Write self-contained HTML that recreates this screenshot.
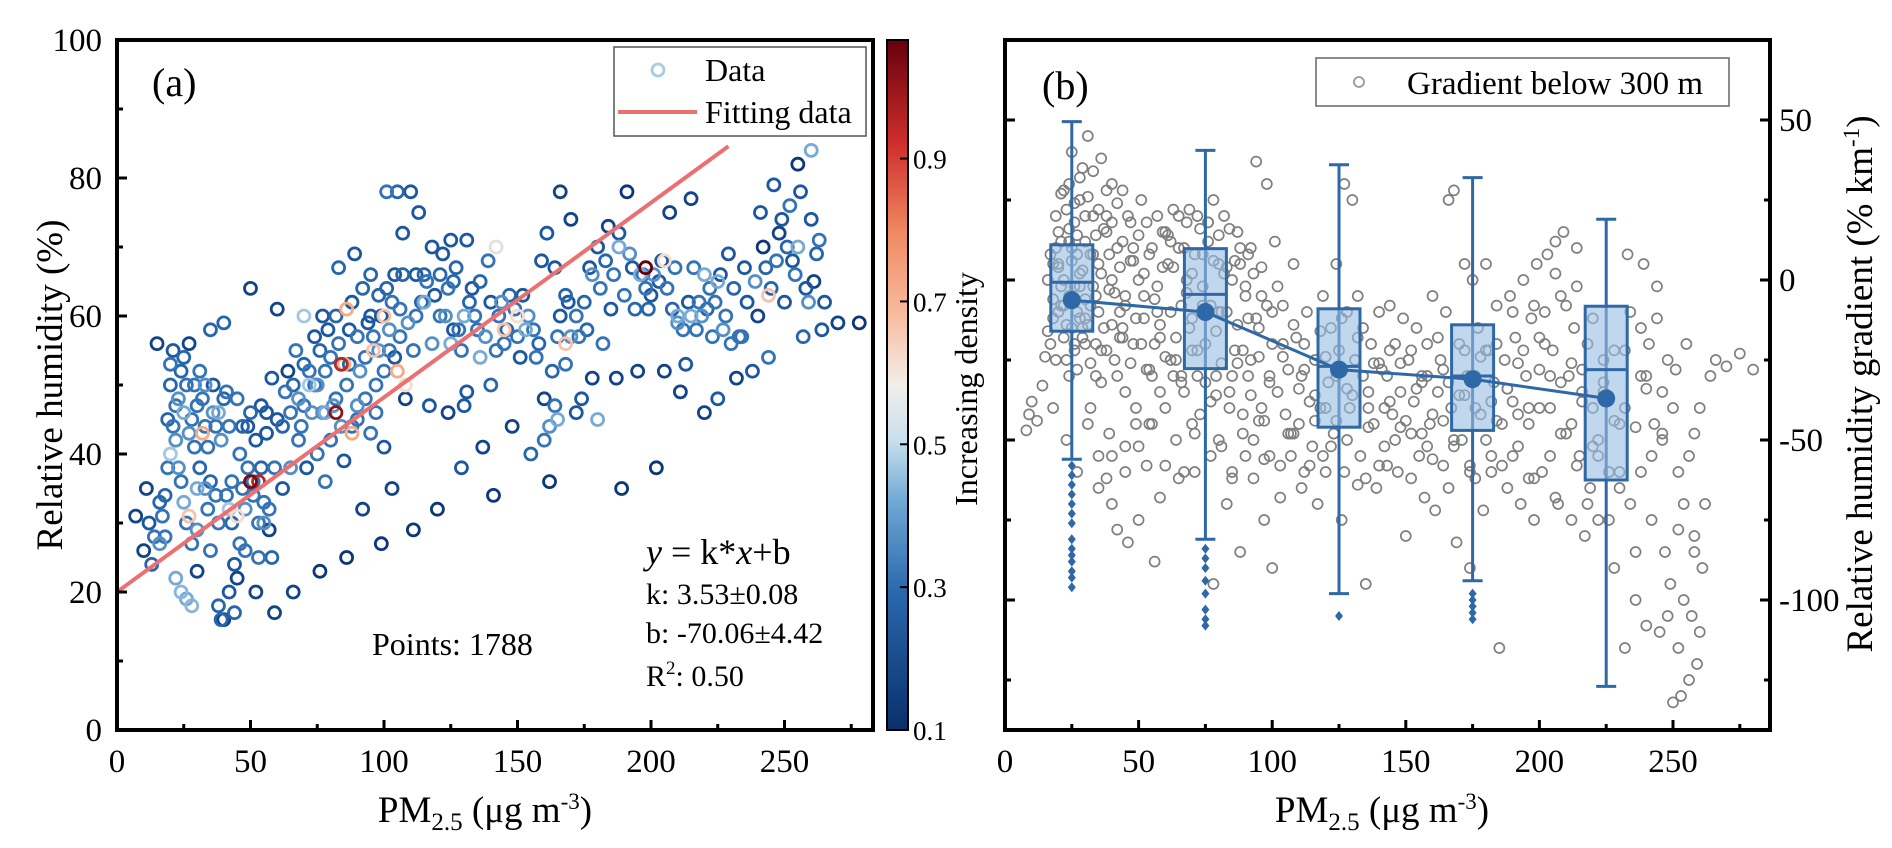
<!DOCTYPE html>
<html><head><meta charset="utf-8"><style>
html,body{margin:0;padding:0;background:#fff}
svg{display:block}
svg text{font-family:"Liberation Serif","Times New Roman",serif}
</style></head><body>
<svg id="chart" width="1892" height="848" viewBox="0 0 1892 848" xmlns="http://www.w3.org/2000/svg" font-family="Liberation Serif, serif">
<defs>
<linearGradient id="cbg" x1="0" y1="1" x2="0" y2="0">
<stop offset="0" stop-color="#08306b"/><stop offset="0.2" stop-color="#2a68ad"/><stop offset="0.33" stop-color="#6ea8d3"/><stop offset="0.42" stop-color="#c9dfee"/><stop offset="0.5" stop-color="#f3eeea"/><stop offset="0.6" stop-color="#f8bd9f"/><stop offset="0.72" stop-color="#ef8a62"/><stop offset="0.85" stop-color="#cf2e2c"/><stop offset="1" stop-color="#67000d"/>
</linearGradient>
</defs>
<g id="pa"></g>
<g id="pb"></g>
</svg>
<script>
// ---------- Panel (a) data ----------
const aX = [7,10,11,13,15,16,17,18,19,20,20,21,22,22,23,24,25,26,27,28,28,29,30,30,31,32,33,34,35,36,37,38,38,39,40,41,42,43,44,45,46,47,48,49,50,51,52,53,54,55,56,57,58,59,60,
22,24,26,28,20,25,30,42,45,32,27,50,53,
62,64,65,66,68,70,72,74,75,76,77,78,80,82,83,85,86,87,88,89,90,92,93,95,96,97,98,99,100,101,102,103,104,105,106,107,108,110,111,112,113,115,117,118,120,121,122,124,125,126,128,129,130,131,
70,72,78,85,86,88,96,100,105,108,82,84,75,90,95,115,125,130,136,142,
133,135,137,139,140,141,143,145,147,148,150,152,155,157,159,160,161,162,163,164,165,166,168,169,170,172,173,175,177,178,180,182,184,185,187,189,190,191,193,195,197,199,200,202,203,205,207,209,211,213,215,217,218,220,222,223,225,228,229,230,232,234,235,238,240,241,242,244,245,246,248,250,252,253,255,257,258,260,261,263,265,270,278,
153,165,180,188,196,205,210,215,220,225,244,255,260,198,168,150,145,
12,14,16,18,19,21,23,24,26,27,29,31,33,34,35,36,37,39,40,41,43,44,45,46,47,48,49,50,51,52,53,54,55,56,57,58,59,60,38,33,25,30,35,42,40,
62,63,65,66,67,68,69,70,71,73,74,76,77,78,79,80,81,82,83,84,86,87,88,90,91,92,93,94,95,97,98,99,100,101,102,103,104,106,107,109,111,112,114,116,118,119,121,123,124,126,127,129,131,132,
134,136,138,140,142,144,146,149,151,154,156,158,160,162,164,166,168,170,172,174,176,178,181,183,186,188,192,194,198,201,204,206,208,210,212,214,216,219,221,224,226,227,231,233,236,239,243,247,249,251,254,256,259,262,264];
const aY = [31,26,35,24,56,33,31,28,45,50,53,55,47,42,38,36,54,30,56,45,27,50,47,23,52,48,44,41,58,46,34,30,18,16,59,49,44,36,17,48,40,35,26,44,64,36,20,30,47,33,43,29,51,17,61,
22,20,19,18,40,46,35,32,31,43,31,36,36,
35,52,46,20,42,47,52,57,40,23,60,36,54,48,67,39,25,58,44,69,45,32,54,60,57,50,63,27,41,78,55,35,66,78,61,72,48,78,29,60,75,66,47,70,32,60,69,46,71,65,58,38,47,71,
60,50,46,53,61,43,55,60,52,50,46,53,50,47,43,62,56,60,54,70,
64,58,41,68,50,34,60,56,63,44,57,63,40,54,68,48,72,36,52,67,57,78,53,62,74,46,57,62,67,51,70,56,73,61,51,35,63,78,67,52,66,61,63,38,65,52,75,67,49,53,77,58,62,46,64,57,48,60,69,56,51,57,67,52,60,75,70,54,64,79,72,62,76,68,82,57,64,74,65,71,62,59,59,
58,45,45,70,66,68,60,60,66,65,63,70,84,67,56,60,58,
30,28,27,34,38,44,48,52,50,43,41,38,35,32,36,50,44,42,48,34,30,24,22,27,44,32,38,46,34,42,25,38,30,46,32,25,38,45,46,50,33,29,26,20,16,
44,49,38,50,55,48,44,53,38,46,50,55,46,52,58,42,47,60,56,44,50,53,62,57,52,64,48,59,66,46,55,60,52,64,58,62,54,57,66,59,55,66,62,65,56,63,66,60,64,58,67,55,49,62,
60,65,57,62,55,62,58,61,54,60,58,56,42,44,47,60,63,57,60,48,58,66,64,68,66,72,69,61,64,66,68,64,61,59,58,62,67,60,61,62,66,58,64,57,62,65,67,68,74,70,66,78,62,69,58];
const aD = [0.15,0.15,0.15,0.25,0.15,0.25,0.3,0.3,0.25,0.25,0.3,0.2,0.3,0.35,0.35,0.3,0.25,0.3,0.15,0.3,0.3,0.3,0.3,0.15,0.3,0.3,0.3,0.3,0.25,0.35,0.3,0.3,0.25,0.25,0.25,0.3,0.3,0.3,0.25,0.3,0.3,0.3,0.3,0.2,0.15,0.3,0.15,0.3,0.2,0.3,0.2,0.15,0.2,0.15,0.15,
0.4,0.42,0.4,0.42,0.45,0.4,0.4,0.45,0.6,0.7,0.65,0.98,0.9,
0.2,0.15,0.3,0.15,0.3,0.3,0.3,0.2,0.3,0.12,0.2,0.3,0.3,0.3,0.25,0.2,0.12,0.2,0.3,0.2,0.3,0.15,0.3,0.2,0.3,0.3,0.25,0.12,0.2,0.3,0.3,0.15,0.2,0.25,0.3,0.2,0.15,0.2,0.12,0.3,0.2,0.25,0.2,0.2,0.12,0.3,0.2,0.15,0.2,0.25,0.3,0.2,0.2,0.2,
0.45,0.45,0.4,0.7,0.7,0.7,0.65,0.65,0.7,0.6,0.95,0.9,0.35,0.35,0.3,0.4,0.4,0.4,0.4,0.55,
0.2,0.3,0.15,0.3,0.25,0.12,0.3,0.3,0.25,0.15,0.3,0.2,0.25,0.3,0.2,0.15,0.2,0.12,0.25,0.2,0.3,0.15,0.3,0.2,0.15,0.2,0.3,0.25,0.2,0.15,0.2,0.3,0.15,0.2,0.15,0.12,0.3,0.12,0.2,0.15,0.3,0.25,0.2,0.12,0.2,0.15,0.15,0.3,0.15,0.2,0.15,0.3,0.3,0.15,0.3,0.3,0.2,0.3,0.2,0.3,0.15,0.3,0.2,0.2,0.15,0.2,0.12,0.3,0.25,0.2,0.15,0.2,0.3,0.2,0.12,0.25,0.2,0.2,0.15,0.3,0.2,0.15,0.12,
0.4,0.4,0.4,0.4,0.4,0.6,0.4,0.4,0.4,0.4,0.65,0.4,0.4,1.0,0.65,0.6,0.65,
0.2,0.3,0.35,0.25,0.3,0.3,0.35,0.25,0.3,0.35,0.3,0.25,0.35,0.3,0.25,0.2,0.3,0.35,0.25,0.3,0.25,0.2,0.15,0.3,0.25,0.35,0.3,0.25,0.3,0.2,0.3,0.25,0.35,0.2,0.3,0.25,0.3,0.2,0.4,0.35,0.4,0.35,0.3,0.2,0.15,
0.25,0.3,0.35,0.25,0.3,0.35,0.3,0.25,0.2,0.35,0.3,0.25,0.35,0.3,0.2,0.3,0.35,0.25,0.3,0.35,0.3,0.25,0.2,0.3,0.35,0.25,0.3,0.2,0.25,0.3,0.35,0.2,0.3,0.25,0.35,0.3,0.2,0.3,0.25,0.35,0.3,0.2,0.25,0.3,0.35,0.2,0.25,0.35,0.3,0.2,0.25,0.3,0.2,0.25,
0.3,0.25,0.35,0.2,0.3,0.35,0.25,0.3,0.2,0.35,0.3,0.25,0.3,0.35,0.3,0.2,0.25,0.35,0.3,0.2,0.25,0.35,0.3,0.25,0.3,0.2,0.35,0.25,0.3,0.35,0.2,0.3,0.25,0.35,0.3,0.2,0.3,0.35,0.25,0.3,0.2,0.35,0.25,0.3,0.2,0.35,0.25,0.3,0.2,0.25,0.3,0.2,0.35,0.25,0.2];
const aXTicks = [0,50,100,150,200,250];
const aYTicks = [0,20,40,60,80,100];
const cbTicks = [0.1,0.3,0.5,0.7,0.9];
const fitLine = [[0,20],[229,84.6]];

// ---------- Panel (b) data ----------
const bX = [8,9,10,12,14,15,16,17,18,18,19,20,20,21,22,22,23,23,24,24,25,25,26,26,27,27,28,28,29,29,30,30,
31,32,32,33,34,35,35,36,37,38,38,39,40,40,41,42,42,43,44,45,45,46,47,48,49,50,50,51,52,53,54,55,56,57,58,58,59,60,
61,62,63,64,65,66,67,68,69,70,71,72,73,74,75,76,77,78,78,79,80,81,82,83,84,85,86,87,88,89,90,91,92,93,94,95,96,97,98,99,100,100,
101,102,103,104,105,106,107,108,109,110,111,112,113,114,115,116,117,118,119,120,121,122,123,124,125,126,127,128,129,130,131,132,133,134,135,136,137,138,139,140,141,142,143,144,145,146,147,148,149,150,
151,152,153,154,155,156,157,158,159,160,161,162,163,164,165,166,167,168,169,170,171,172,173,174,175,176,177,178,179,180,181,182,183,184,185,186,187,188,189,190,191,192,193,194,195,196,197,198,199,200,
201,202,203,204,205,206,207,208,209,210,211,212,213,214,215,216,217,218,219,220,222,224,226,228,230,232,233,234,236,238,239,240,241,242,243,244,245,246,247,248,249,250,251,252,253,254,255,256,257,258,259,260,261,262,264,266,270,275,280,
20,22,24,26,28,30,33,36,40,44,48,52,56,60,64,68,72,76,80,84,88,92,96,21,25,29,34,38,43,47,53,57,62,66,70,74,79,83,87,91,95,99,
104,108,112,116,120,124,128,132,136,140,144,148,152,156,160,164,168,172,176,180,184,188,192,196,200,204,208,212,216,220,224,228,232,236,240,
18,23,27,31,35,39,45,49,54,58,63,67,71,77,81,85,89,93,97,103,107,111,119,127,135,143,158,166,174,182,190,198,206,214,222,230,238,246,252,258,
16,17,18,19,19,20,21,21,22,23,24,24,25,26,26,27,27,28,28,29,30,30,31,31,32,32,33,33,34,34,35,35,36,36,37,38,38,39,40,40,41,42,42,43,44,44,45,46,47,48,49,50,51,52,53,54,55,56,57,58,59,60,
61,62,63,64,65,66,67,68,69,70,71,72,73,74,75,76,77,78,79,80,81,82,83,84,85,86,87,88,89,90,91,92,93,94,95,96,97,98,99,100,70,80,90,85,65,60,55,50,45,40,
102,104,106,108,110,112,114,116,118,120,122,124,126,128,130,132,134,136,138,140,142,144,146,148,150,152,154,156,158,160,162,164,166,168,170,172,174,176,178,180,182,184,186,188,190,192,194,196,198,200,
202,204,206,208,210,212,214,216,218,220,222,224,226,228,230,232,234,236,238,240,242,244,246,248,250,252,254,256,258,260];
const bY = [-47,-42,-38,-44,-33,-24,-16,-20,-6,5,10,15,-10,27,0,-18,22,-25,-5,30,40,-15,18,-2,8,-28,25,-12,3,35,-20,12,
45,-8,-40,20,-30,5,-55,38,-15,-62,15,-3,30,-70,-25,10,-78,-10,28,-35,-5,-82,18,-20,-45,0,-75,25,-12,-58,8,-30,-88,-2,-18,-68,15,-40,
5,-25,22,-50,10,-8,-35,18,-15,2,-60,20,-42,8,-20,12,-55,25,-95,-30,5,-10,20,-70,-40,0,-22,15,-85,-48,-5,-30,10,-62,37,-15,-40,-75,30,-55,-90,-20,
12,-35,-68,-8,-42,-28,-55,5,-18,-45,-30,-60,-10,-38,-52,-25,-70,-40,-5,-60,-32,-15,-48,5,-22,-75,30,-10,-40,25,-25,-5,-55,-15,-95,-35,-20,-45,-65,-10,-28,-52,-30,-8,-42,-20,-60,-35,-12,-80,
-25,-48,-38,-15,-55,-30,-68,-20,-45,-5,-72,-35,-25,-58,-10,25,-40,28,-82,-20,-50,5,-30,-90,0,-62,-15,-42,-72,5,-22,-55,-32,-8,-115,-45,-25,-65,-5,-38,-18,-52,-70,0,-30,-45,-12,-75,5,-28,
-60,-10,8,-40,-22,12,-70,-5,15,-48,-30,-75,-15,10,-55,-35,-80,-20,-65,-40,-75,-25,-60,-90,-45,-115,8,-70,-100,-30,5,-108,-20,-55,-45,-12,-110,-35,-85,-25,-95,-132,-28,-60,-130,-100,-20,-125,-105,-48,-120,-40,-90,-70,-30,-25,-27,-23,-28,
5,-8,12,-20,2,-12,8,-22,0,-15,10,-5,-20,15,-25,0,-30,18,-10,-35,5,-25,-5,-2,10,-15,-5,20,-18,6,-28,-10,12,-32,-22,-8,-36,4,-26,-12,-44,-32,
-20,-48,-28,-36,-24,-44,-34,-18,-40,-26,-38,-46,-22,-32,-42,-28,-50,-36,-30,-22,-44,-34,-26,-40,-18,-30,-48,-26,-38,-52,-32,-44,-22,-46,-34,
-40,-50,-60,-45,-65,-48,-52,-40,-45,-35,-30,-60,-48,-38,-52,-62,-42,-50,-56,-58,-48,-65,-55,-60,-62,-58,-52,-65,-58,-60,-55,-62,-68,-58,-55,-65,-60,-48,-78,-80,
0,8,-12,20,-25,4,-8,12,28,-14,16,-30,6,-22,24,-10,14,-2,32,-18,20,-6,26,-14,8,-26,-2,34,14,-20,22,-10,2,-32,16,-22,28,8,-14,18,-4,24,-30,4,-18,12,-8,20,-26,6,-12,14,-20,2,18,-28,10,-6,20,-14,4,-24,
14,-10,4,-18,20,-30,10,-4,22,-12,8,-22,16,-2,-32,18,-8,6,-16,14,-26,2,-10,16,-30,6,-14,10,-22,-2,8,-36,2,-12,-24,4,-44,-8,-30,-10,-45,-50,-55,-60,-62,-58,-45,-52,-60,-55,
-2,-24,-48,-14,-34,-20,-58,-44,-16,-40,-52,-30,-12,-50,-36,-64,-30,-46,-26,-58,-40,-22,-50,-26,-44,-62,-34,-48,-30,-56,-18,-44,-32,-52,-36,-22,-60,-40,-24,-50,-38,-20,-58,-34,-10,-42,-22,-62,-8,-40,
-20,-55,2,-32,-8,-45,-2,-28,-70,-12,-50,-35,-75,-22,-60,-40,-10,-85,-15,-30,-75,-2,-50,-105,-40,-115,-70,-55,-85,-110];
const bCats = [25,75,125,175,225];
const bWhiskLo = [-56,-81,-98,-94,-127];
const bQ1 = [-16,-27.7,-46,-47,-62.5];
const bMed = [-0.7,-4.5,-27,-30,-28];
const bQ3 = [11,9.8,-9,-14,-8.2];
const bWhiskHi = [49.5,40.5,36,32,19];
const bMean = [-6.3,-10,-28,-31,-37];
const bOutX = [25,25,25,25,25,25,25,25,25,25,25,25,25,25,75,75,75,75,75,75,75,75,125,175,175,175,175,175];
const bOutY = [-58,-61,-64,-67,-70,-73,-76,-81,-84,-86,-88,-91,-93,-96,-84,-87,-90,-94,-98,-103,-106,-108,-105,-98,-100,-102,-104,-106];
const bXTicks = [0,50,100,150,200,250];
const bYTicks = [50,0,-50,-100];
const bYMinor = [25,-25,-75,-125];

// ---------- helpers ----------
const NS = 'http://www.w3.org/2000/svg';
function mk(parent, tag, attrs, text){
  const e = document.createElementNS(NS, tag);
  for (const k in attrs) e.setAttribute(k, attrs[k]);
  if (text !== undefined) e.textContent = text;
  parent.appendChild(e);
  return e;
}
const xa = v => 117 + v * 2.67;
const ya = v => 730 - v * 6.9;
const xb = v => 1005 + v * 2.672;
const yb = v => 280 - v * 3.2;
const cbY = v => 730 - (v - 0.1) / (0.966) * 690;

function cmap(d){
  const stops = [[0.1,[8,48,107]],[0.2,[28,88,160]],[0.3,[52,115,182]],[0.4,[120,170,214]],[0.5,[210,228,240]],[0.6,[245,220,205]],[0.7,[246,170,135]],[0.85,[214,64,50]],[1.0,[103,0,13]]];
  if (d <= stops[0][0]) return 'rgb(' + stops[0][1].join(',') + ')';
  for (let i = 1; i < stops.length; i++){
    if (d <= stops[i][0]){
      const t = (d - stops[i-1][0]) / (stops[i][0] - stops[i-1][0]);
      const c = stops[i-1][1].map((v, j) => Math.round(v + (stops[i][1][j] - v) * t));
      return 'rgb(' + c.join(',') + ')';
    }
  }
  return 'rgb(103,0,13)';
}

// ---------- Panel (a) ----------
const pa = document.getElementById('pa');
const aPts = mk(pa, 'g', {});


const order = aD.map((d, i) => i).sort((p, q) => aD[p] - aD[q]);
order.forEach(i => {
  const c = mk(aPts, 'circle', {cx: xa(aX[i]), cy: ya(aY[i]), r: 6, fill: 'none', stroke: cmap(aD[i]), 'stroke-width': 2.8});
  
  
});
const fl = mk(pa, 'line', {x1: xa(fitLine[0][0]), y1: ya(fitLine[0][1]), x2: xa(fitLine[1][0]), y2: ya(fitLine[1][1]), stroke: '#ea7072', 'stroke-width': 4});



const frameA = mk(pa, 'rect', {x: 117, y: 40, width: 756, height: 690, fill: 'none', stroke: '#000', 'stroke-width': 4});


aXTicks.forEach(v => {
  mk(pa, 'line', {x1: xa(v), y1: 730, x2: xa(v), y2: 720, stroke: '#000', 'stroke-width': 3});
  if (v + 25 < 283) mk(pa, 'line', {x1: xa(v + 25), y1: 730, x2: xa(v + 25), y2: 724, stroke: '#000', 'stroke-width': 3});
  const t = mk(pa, 'text', {x: xa(v), y: 772, 'font-size': 33, 'text-anchor': 'middle'}, String(v));
  
  
});
aYTicks.forEach(v => {
  mk(pa, 'line', {x1: 117, y1: ya(v), x2: 127, y2: ya(v), stroke: '#000', 'stroke-width': 3});
  if (v < 100) mk(pa, 'line', {x1: 117, y1: ya(v + 10), x2: 123, y2: ya(v + 10), stroke: '#000', 'stroke-width': 3});
  const t = mk(pa, 'text', {x: 102, y: ya(v) + 11, 'font-size': 33, 'text-anchor': 'end'}, String(v));
  
  
});
</script>
<script>
(function(){
const pa = document.getElementById('pa');
pa.insertAdjacentHTML('beforeend', `
<text x="152" y="96" font-size="40">(a)</text>
<text transform="translate(62,385) rotate(-90)" font-size="37" text-anchor="middle">Relative humidity (%)</text>
<text x="485" y="822" font-size="37" text-anchor="middle">PM<tspan font-size="25" dy="8">2.5</tspan><tspan dy="-8"> (μg m</tspan><tspan font-size="23" dy="-13">-3</tspan><tspan dy="13">)</tspan></text>
<g>
<rect x="614" y="47" width="252" height="89" fill="#fff" stroke="#555" stroke-width="1.5"/>
<circle cx="658" cy="70" r="6" fill="none" stroke="#a9cbe3" stroke-width="2.8"/>
<text x="705" y="81" font-size="32">Data</text>
<line x1="618" y1="112" x2="697" y2="112" stroke="#ea7072" stroke-width="4"/>
<text x="705" y="123" font-size="32">Fitting data</text>
</g>
<g>
<text x="646" y="564" font-size="36"><tspan font-style="italic">y</tspan> = k*<tspan font-style="italic">x</tspan>+b</text>
<text x="646" y="604" font-size="30">k: 3.53±0.08</text>
<text x="646" y="643" font-size="30">b: -70.06±4.42</text>
<text x="646" y="686" font-size="30">R<tspan font-size="19" dy="-12">2</tspan><tspan dy="12">: 0.50</tspan></text>
</g>
<text x="372" y="655" font-size="32">Points: 1788</text>
<g>
<rect x="887" y="40" width="21" height="690" fill="url(#cbg)" stroke="#000" stroke-width="2"/>
</g>
<text transform="translate(977,389) rotate(-90)" font-size="32" text-anchor="middle">Increasing density</text>
`);
})();
</script>
<script>
(function(){
const pa = document.getElementById('pa');
cbTicks.forEach(v => {
  mk(pa, 'line', {x1: 900, y1: cbY(v), x2: 908, y2: cbY(v), stroke: '#000', 'stroke-width': 2});
  const t = mk(pa, 'text', {x: 913, y: cbY(v) + 10, 'font-size': 27}, String(v));
  
  
});

// ---------- Panel (b) ----------
const pb = document.getElementById('pb');
const bPts = mk(pb, 'g', {});


bX.forEach((x, i) => {
  const c = mk(bPts, 'circle', {cx: xb(x), cy: yb(bY[i]), r: 5, fill: 'none', stroke: '#7f7f7f', 'stroke-width': 1.7});
  
  
});
const boxC = '#2f68a6';
bCats.forEach((c, i) => {
  const g = mk(pb, 'g', {});
  
  
  const cx = xb(c), hw = 21;
  mk(g, 'line', {x1: cx, y1: yb(bWhiskHi[i]), x2: cx, y2: yb(bWhiskLo[i]), stroke: boxC, 'stroke-width': 3});
  mk(g, 'line', {x1: cx - 10, y1: yb(bWhiskHi[i]), x2: cx + 10, y2: yb(bWhiskHi[i]), stroke: boxC, 'stroke-width': 3});
  mk(g, 'line', {x1: cx - 10, y1: yb(bWhiskLo[i]), x2: cx + 10, y2: yb(bWhiskLo[i]), stroke: boxC, 'stroke-width': 3});
  mk(g, 'rect', {x: cx - hw, y: yb(bQ3[i]), width: 2 * hw, height: yb(bQ1[i]) - yb(bQ3[i]), fill: 'rgba(150,188,226,0.6)', stroke: boxC, 'stroke-width': 3});
  mk(g, 'line', {x1: cx - hw, y1: yb(bMed[i]), x2: cx + hw, y2: yb(bMed[i]), stroke: boxC, 'stroke-width': 3});
});
bOutX.forEach((x, i) => {
  const cx = xb(x), cy = yb(bOutY[i]);
  const p = mk(pb, 'path', {d: `M${cx},${cy-5}L${cx+4},${cy}L${cx},${cy+5}L${cx-4},${cy}Z`, fill: boxC});
  
  
});
const ml = mk(pb, 'polyline', {points: bCats.map((c, i) => xb(c) + ',' + yb(bMean[i])).join(' '), fill: 'none', stroke: boxC, 'stroke-width': 3});


bCats.forEach((c, i) => {
  const m = mk(pb, 'circle', {cx: xb(c), cy: yb(bMean[i]), r: 9, fill: boxC});
  
  
});
const frameB = mk(pb, 'rect', {x: 1005, y: 40, width: 765, height: 690, fill: 'none', stroke: '#000', 'stroke-width': 4});


bXTicks.forEach(v => {
  mk(pb, 'line', {x1: xb(v), y1: 730, x2: xb(v), y2: 720, stroke: '#000', 'stroke-width': 3});
  if (v + 25 < 286) mk(pb, 'line', {x1: xb(v + 25), y1: 730, x2: xb(v + 25), y2: 724, stroke: '#000', 'stroke-width': 3});
  const t = mk(pb, 'text', {x: xb(v), y: 772, 'font-size': 33, 'text-anchor': 'middle'}, String(v));
  
  
});
bYTicks.forEach(v => {
  mk(pb, 'line', {x1: 1005, y1: yb(v), x2: 1015, y2: yb(v), stroke: '#000', 'stroke-width': 3});
  mk(pb, 'line', {x1: 1770, y1: yb(v), x2: 1760, y2: yb(v), stroke: '#000', 'stroke-width': 3});
  const t = mk(pb, 'text', {x: 1779, y: yb(v) + 11, 'font-size': 33}, String(v));
  
  
});
bYMinor.forEach(v => {
  mk(pb, 'line', {x1: 1005, y1: yb(v), x2: 1011, y2: yb(v), stroke: '#000', 'stroke-width': 3});
  mk(pb, 'line', {x1: 1770, y1: yb(v), x2: 1764, y2: yb(v), stroke: '#000', 'stroke-width': 3});
});
pb.insertAdjacentHTML('beforeend', `
<text x="1042" y="99" font-size="40">(b)</text>
<g>
<rect x="1316" y="58" width="413" height="48" fill="#fff" stroke="#666" stroke-width="1.5"/>
<circle cx="1359" cy="82" r="5" fill="none" stroke="#999" stroke-width="1.8"/>
<text x="1407" y="94" font-size="33">Gradient below 300 m</text>
</g>
<text x="1382" y="822" font-size="37" text-anchor="middle">PM<tspan font-size="25" dy="8">2.5</tspan><tspan dy="-8"> (μg m</tspan><tspan font-size="23" dy="-13">-3</tspan><tspan dy="13">)</tspan></text>
<text transform="translate(1872,384) rotate(-90)" font-size="37" text-anchor="middle">Relative humidity gradient (% km<tspan font-size="23" dy="-13">-1</tspan><tspan dy="13">)</tspan></text>
`);
})();
</script>
</body></html>
